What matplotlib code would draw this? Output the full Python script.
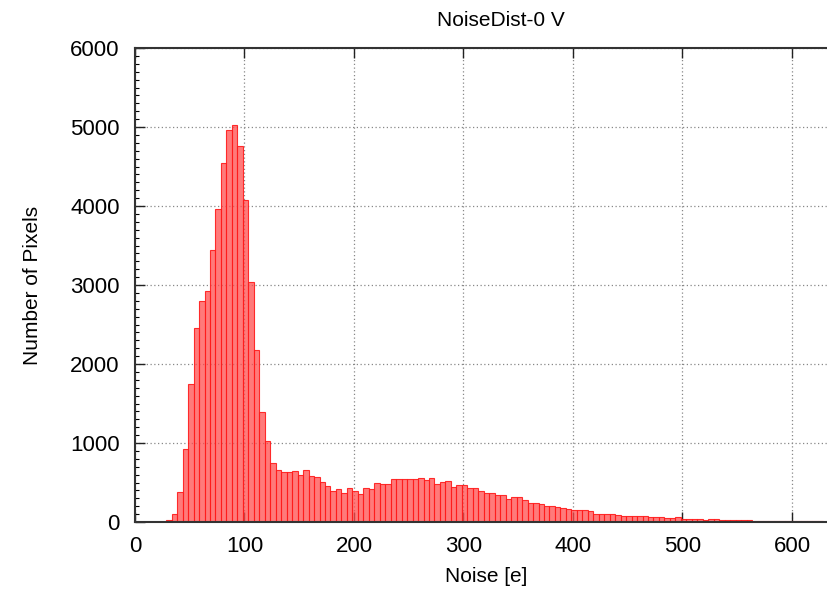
import numpy as np
import matplotlib
matplotlib.use("Agg")
import matplotlib.pyplot as plt
from matplotlib.ticker import MultipleLocator

plt.rcParams['font.family'] = ['Liberation Sans', 'DejaVu Sans']

title = "NoiseDist-0 V"
xlabel = "Noise [e]"
ylabel = "Number of Pixels"

# histogram: bin width 5 e, first bin starting near 25 e
bin_width = 5
first_bin = 25
counts = [
    5, 25, 100, 380, 920, 1750, 2455, 2800, 2920, 3440,      # 25-70
    3960, 4540, 4960, 5020, 4760, 4070, 3040, 2180, 1390, 1020,  # 75-120
    750, 655, 630, 637, 650, 600, 662, 587, 571, 504,        # 125-170
    462, 396, 421, 367, 429, 396, 350, 429, 417, 492,        # 175-220
    483, 475, 546, 546, 546, 550, 542, 562, 537, 555,        # 225-270
    476, 505, 515, 443, 464, 464, 426, 426, 392, 371,        # 275-320
    371, 342, 342, 291, 312, 312, 283, 245, 245, 232,        # 325-370
    207, 207, 194, 181, 165, 148, 148, 148, 139, 105,        # 375-420
    97, 105, 97, 84, 80, 70, 70, 75, 70, 65,                 # 425-470
    62, 62, 50, 50, 62, 42, 38, 35, 33, 30,                  # 475-520
    32, 35, 28, 25, 22, 20, 22, 25, 18, 15,                  # 525-570
    15, 18, 12, 10, 10, 8, 10, 8, 10, 12,                    # 575-620
    8, 6, 5, 4, 4, 3, 3, 2,                                  # 625-660
]
xticks = [0, 100, 200, 300, 400, 500, 600]
yticks = [0, 1000, 2000, 3000, 4000, 5000, 6000]

centers = first_bin + 1 + bin_width * np.arange(len(counts))

fig = plt.figure(figsize=(8.27, 5.92), dpi=100)
L, R = 135 / 827, 867 / 827
B, T = 1 - 522 / 592, 1 - 48 / 592
ax = fig.add_axes([L, B, R - L, T - B])

ax.bar(centers, counts, width=bin_width, align='center',
       facecolor=(1.0, 0.3, 0.3, 0.75), edgecolor=(1.0, 0.1, 0.1, 0.9),
       linewidth=0.8, zorder=2)

ax.set_xlim(0, 668.5)
ax.set_ylim(0, 6000)
ax.set_xticks(xticks)
ax.set_yticks(yticks)
ax.yaxis.set_minor_locator(MultipleLocator(100))

ax.grid(True, which='major', linestyle=(0, (1, 2)), color='#888888', linewidth=0.9, zorder=1)
ax.set_axisbelow(True)

ax.tick_params(axis='both', which='major', direction='in', length=7, width=1.0,
               labelsize=16, top=True, right=False, colors='#222222', labelcolor='black')
ax.tick_params(axis='y', which='major', pad=11)
ax.tick_params(axis='x', which='major', pad=10)
ax.tick_params(axis='y', which='minor', direction='in', length=3, width=0.8, right=False)

for s in ['left', 'top', 'bottom']:
    ax.spines[s].set_linewidth(1.5)
    ax.spines[s].set_color('#333333')
ax.spines['right'].set_visible(False)

ax.set_xlabel(xlabel, fontsize=15)
ax.xaxis.set_label_coords((486 - 135) / 732, -0.095)
ax.set_ylabel(ylabel, fontsize=15)
ax.yaxis.set_label_coords((42 - 135) / 732, 0.5)

fig.text(501 / 827, 1 - 20 / 592, title, ha='center', va='center', fontsize=15)

fig.savefig("out.png", dpi=100)
